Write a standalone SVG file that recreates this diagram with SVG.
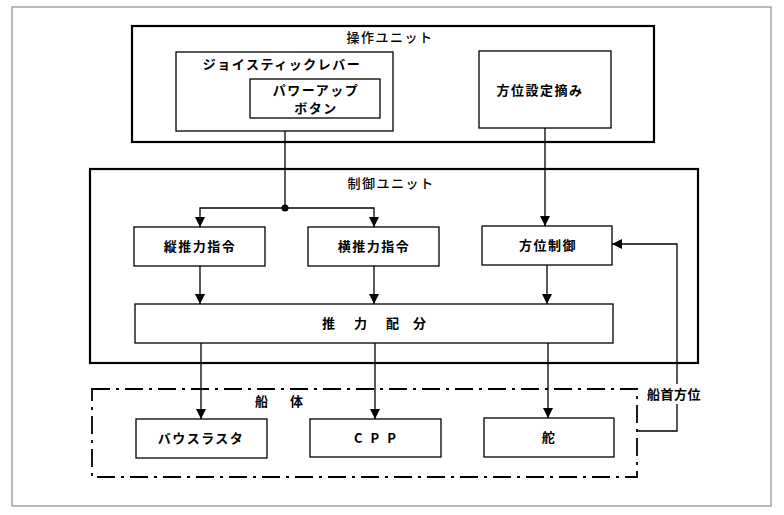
<svg xmlns="http://www.w3.org/2000/svg" width="784" height="515" viewBox="0 0 784 515">
<style>
text{font-family:"Noto Sans CJK JP","Noto Sans",sans-serif;font-size:13px;fill:#000}
.b{font-weight:700;letter-spacing:1.5px}
.t{font-weight:500;letter-spacing:1.5px}
.box{fill:#fff;stroke:#000;stroke-width:1.3}
.unit{fill:none;stroke:#000;stroke-width:2.2}
.ln{fill:none;stroke:#000;stroke-width:1.3}
</style>
<defs>
<marker id="ah" viewBox="0 0 10 10" refX="10" refY="5" markerWidth="10" markerHeight="10" markerUnits="userSpaceOnUse" orient="auto">
<path d="M0,0 L10,5 L0,10 Z" fill="#000"/>
</marker>
</defs>
<rect width="784" height="515" fill="#fff"/>
<rect x="12" y="7" width="759" height="499" fill="none" stroke="#777" stroke-width="1"/>

<g id="opunit">
<rect class="unit" x="132" y="26" width="522" height="116"/>
<text class="t" x="390" y="42" text-anchor="middle">操作ユニット</text>
</g>
<g id="joystick">
<rect class="box" x="176" y="52" width="217" height="79"/>
<text class="b" x="282" y="69" text-anchor="middle">ジョイスティックレバー</text>
</g>
<g id="powerup">
<rect class="box" x="250" y="79" width="130" height="39"/>
<text class="b" x="316" y="95" text-anchor="middle">パワーアップ</text>
<text class="b" x="316" y="113" text-anchor="middle">ボタン</text>
</g>
<g id="dial">
<rect class="box" x="479" y="51" width="132" height="77"/>
<text class="b" x="540" y="95" text-anchor="middle">方位設定摘み</text>
</g>

<g id="ctrlunit">
<rect class="unit" x="90" y="169" width="608" height="194"/>
<text class="t" x="391" y="188" text-anchor="middle">制御ユニット</text>
</g>
<g id="longi">
<rect class="box" x="134" y="227" width="131" height="39"/>
<text class="b" x="200" y="251" text-anchor="middle">縦推力指令</text>
</g>
<g id="lat">
<rect class="box" x="308" y="227" width="131" height="39"/>
<text class="b" x="374" y="251" text-anchor="middle">横推力指令</text>
</g>
<g id="heading">
<rect class="box" x="482" y="226" width="130" height="39"/>
<text class="b" x="548" y="250" text-anchor="middle">方位制御</text>
</g>
<g id="alloc">
<rect class="box" x="135" y="304" width="478" height="39"/>
<text class="b" x="322 354 386 413" y="328">推力配分</text>
</g>

<g id="hull">
<rect x="92" y="389" width="545" height="88" fill="none" stroke="#000" stroke-width="1.8" stroke-dasharray="18,6,3,6"/>
<text class="b" x="255 290" y="406">船体</text>
</g>
<g id="bow">
<rect class="box" x="136" y="419" width="131" height="39"/>
<text class="b" x="201" y="443" text-anchor="middle">バウスラスタ</text>
</g>
<g id="cpp">
<rect class="box" x="310" y="419" width="131" height="38"/>
<text class="b" x="379" y="443" text-anchor="middle" style="letter-spacing:8px">CPP</text>
</g>
<g id="rudder">
<rect class="box" x="484" y="418" width="130" height="39"/>
<text class="b" x="549" y="442" text-anchor="middle">舵</text>
</g>

<g id="connectors">
<path class="ln" d="M285,131 V208"/>
<circle cx="285" cy="208" r="3.5" fill="#000"/>
<path class="ln" d="M285,208 H200 V227" marker-end="url(#ah)"/>
<path class="ln" d="M285,208 H374 V227" marker-end="url(#ah)"/>
<path class="ln" d="M545,128 V226" marker-end="url(#ah)"/>
<path class="ln" d="M200,266 V304" marker-end="url(#ah)"/>
<path class="ln" d="M374,266 V304" marker-end="url(#ah)"/>
<path class="ln" d="M547,265 V304" marker-end="url(#ah)"/>
<path class="ln" d="M201,343 V419" marker-end="url(#ah)"/>
<path class="ln" d="M375,343 V419" marker-end="url(#ah)"/>
<path class="ln" d="M548,343 V418" marker-end="url(#ah)"/>
<path class="ln" d="M637,431 H677 V244 H612" marker-end="url(#ah)"/>
<rect x="646" y="384" width="62" height="20" fill="#fff"/>
<text class="b" x="647" y="399" style="letter-spacing:0.5px">船首方位</text>
</g>
</svg>
